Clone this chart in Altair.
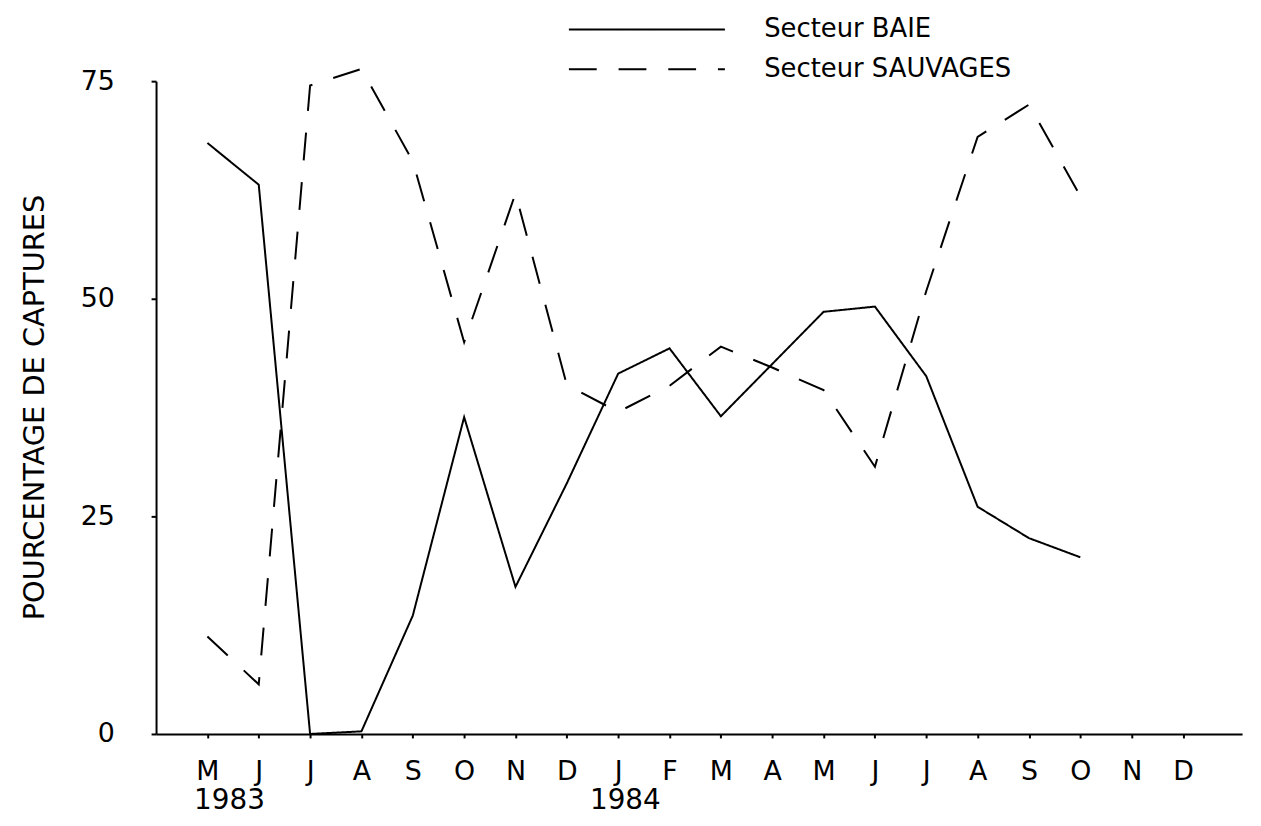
import json
import altair as alt
import pandas as pd

# ---- data ----
months = ["M", "J", "J", "A", "S", "O", "N", "D", "J", "F",
          "M", "A", "M", "J", "J", "A", "S", "O", "N", "D"]
years = ["1983", "1984"]
year_pos = [0.43, 8.14]
series_names = ["Secteur BAIE", "Secteur SAUVAGES"]
baie = [67.9, 63.1, 0.0, 0.3, 13.6, 36.4, 16.9, 28.8, 41.4, 44.3,
        36.5, 42.5, 48.5, 49.1, 41.1, 26.1, 22.5, 20.3]
sauvages = [11.2, 5.7, 74.5, 76.4, 65.8, 45.0, 62.1, 40.1, 37.0, 40.0,
            44.5, 42.1, 39.5, 30.7, 50.9, 68.6, 72.3, 61.8]
y_ticks = [0, 25, 50, 75]

FONT = "DejaVu Sans"

rows = []
for i, v in enumerate(baie):
    rows.append({"idx": i, "value": v, "series": series_names[0]})
for i, v in enumerate(sauvages):
    rows.append({"idx": i, "value": v, "series": series_names[1]})
df = pd.DataFrame(rows)

year_df = pd.DataFrame({"pos": year_pos, "label": years})

label_expr = json.dumps(months) + "[datum.value]"

x_scale = alt.Scale(domain=[-1, 20.15], nice=False, zero=False)
y_scale = alt.Scale(domain=[0, 75], nice=False)

lines = alt.Chart(df).mark_line(color="black", strokeWidth=2, clip=False).encode(
    x=alt.X("idx:Q", scale=x_scale,
            axis=alt.Axis(values=list(range(len(months))), labelExpr=label_expr,
                          title=None, grid=False, tickSize=4, tickWidth=2,
                          domainWidth=2, domainColor="black", tickColor="black",
                          labelFont=FONT, labelFontSize=27, labelColor="black",
                          labelPadding=21, labelFlush=False)),
    y=alt.Y("value:Q", scale=y_scale,
            axis=alt.Axis(values=y_ticks, title="POURCENTAGE DE CAPTURES",
                          grid=False, tickSize=5, tickWidth=2, domainWidth=2,
                          domainColor="black", tickColor="black",
                          labelFont=FONT, labelFontSize=27, labelColor="black",
                          labelPadding=37, labelFlush=False,
                          titleFont=FONT, titleFontSize=29, titleFontWeight="normal",
                          titleColor="black", titleAngle=270,
                          titleX=-122, titleY=328, titleAlign="center",
                          titleBaseline="middle")),
    strokeDash=alt.StrokeDash(
        "series:N",
        scale=alt.Scale(domain=series_names, range=[[1, 0], [28, 22]]),
        legend=alt.Legend(title=None, orient="none", legendX=414, legendY=-72,
                          symbolType="stroke", symbolSize=24650,
                          symbolStrokeColor="black", symbolStrokeWidth=2,
                          labelFont=FONT, labelFontSize=26, labelColor="black",
                          labelLimit=0, labelOffset=38, clipHeight=40,
                          rowPadding=0, padding=0),
    ),
    detail="series:N",
)

year_text = alt.Chart(year_df).mark_text(
    font=FONT, fontSize=28, color="black", baseline="middle", align="center", clip=False
).encode(
    x=alt.X("pos:Q", scale=x_scale),
    text="label:N",
    y=alt.value(725),
)

chart = alt.layer(lines, year_text).properties(
    width=1093,
    height=657,
    padding={"left": 149, "top": 71, "right": 11, "bottom": 90},
    autosize=alt.AutoSizeParams(type="none"),
    background="white",
).configure_view(stroke=None)

chart.save("out.html", embed_options={"renderer": "svg", "actions": False})
